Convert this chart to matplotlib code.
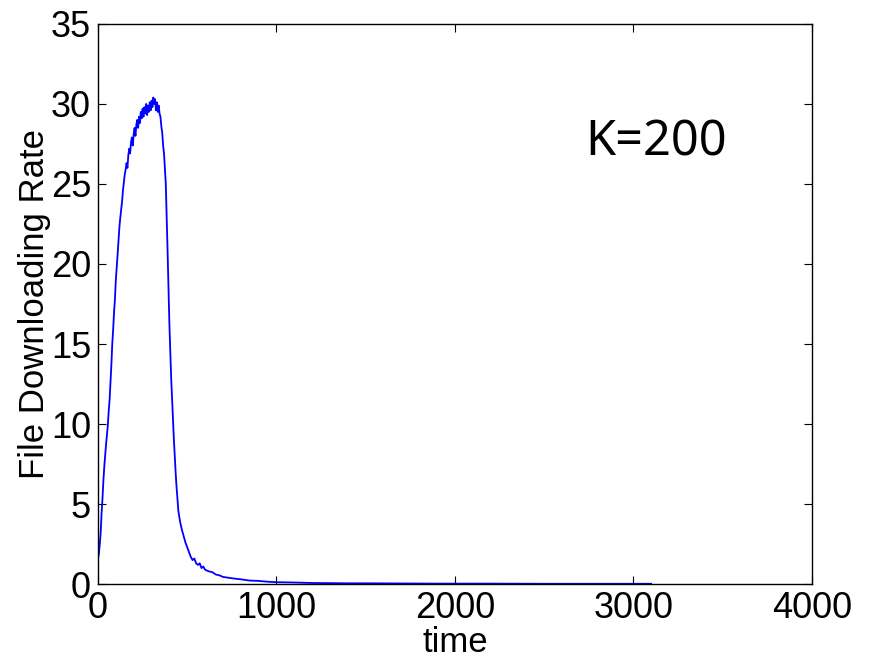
import numpy as np
import matplotlib.pyplot as plt

# values
time = [0, 5, 10, 15, 20, 25, 30, 35, 40, 45, 50, 55, 60, 65, 70, 75, 80, 85, 90, 95,
        100, 105, 110, 115, 120, 125, 130, 135, 140, 145, 150, 155, 160, 165, 170, 175,
        180, 185, 190, 195, 200, 205, 210, 215, 220, 225, 230, 235, 240, 245, 250, 255,
        260, 265, 270, 275, 280, 285, 290, 295, 300, 305, 310, 315, 320, 325, 330, 335,
        340, 345, 350, 355, 360, 365, 370, 375, 380, 385, 390, 395, 400, 405, 410, 415,
        420, 425, 430, 435, 440, 445, 450, 460, 470, 480, 490, 500, 510, 520, 530, 540,
        550, 560, 570, 580, 590, 600, 620, 640, 660, 680, 700, 730, 760, 800, 850, 900,
        950, 1000, 1100, 1200, 1300, 1400, 1500, 1700, 1900, 2200, 2500, 2800, 3100]
rate = [1.6, 1.9, 2.5, 3.2, 4.4, 5.3, 6.4, 7.3, 8.0, 8.7, 9.3, 9.9, 10.8, 11.5, 12.6, 13.7,
        15.0, 15.9, 17.0, 17.8, 19.0, 19.8, 20.6, 21.5, 22.3, 22.9, 23.4, 23.9, 24.6, 25.1,
        25.6, 25.9, 26.3, 26.0, 26.8, 27.2, 26.9, 27.6, 27.9, 27.4, 28.1, 28.5, 28.0, 28.7,
        29.0, 28.5, 29.2, 28.8, 29.5, 29.1, 29.7, 29.2, 29.8, 29.4, 30.0, 29.3, 29.9, 29.5,
        30.1, 29.6, 30.2, 29.8, 30.4, 30.0, 30.3, 29.6, 30.1, 29.5, 29.9, 29.4, 29.2, 28.6,
        28.2, 27.4, 26.9, 25.9, 25.0, 23.0, 20.8, 18.6, 16.3, 14.5, 12.9, 11.6, 10.2, 9.1,
        8.0, 7.0, 6.1, 5.4, 4.6, 3.9, 3.4, 3.0, 2.6, 2.3, 2.0, 1.7, 1.5, 1.6, 1.3, 1.2,
        1.3, 1.0, 1.1, 0.9, 0.8, 0.75, 0.6, 0.55, 0.45, 0.4, 0.35, 0.3, 0.22, 0.2, 0.15,
        0.12, 0.1, 0.07, 0.06, 0.05, 0.05, 0.04, 0.03, 0.03, 0.02, 0.02, 0.02]
x_ticks = [0, 1000, 2000, 3000, 4000]
y_ticks = [0, 5, 10, 15, 20, 25, 30, 35]

plt.rcParams['font.family'] = ['Liberation Sans', 'DejaVu Sans']

fig = plt.figure(figsize=(8.71, 6.63), dpi=100)
ax = fig.add_axes([0.1125, 0.119, 0.8195, 0.845])

ax.plot(time, rate, color='#0000ff', lw=1.3)

ax.set_xlim(0, 4000)
ax.set_ylim(0, 35)
ax.set_xticks(x_ticks)
ax.set_yticks(y_ticks)
ax.tick_params(direction='in', length=6, width=0.8, labelsize=26,
               top=True, right=True)
ax.tick_params(axis='x', pad=5)
ax.tick_params(axis='y', pad=5)
for s in ax.spines.values():
    s.set_linewidth(1.0)

ax.set_xlabel('time', fontsize=25, labelpad=0)
ax.set_ylabel('File Downloading Rate', fontsize=25, labelpad=0)
ax.text(3130, 27.6, 'K=200', fontsize=35, ha='center', va='center',
        family=['Noto Sans', 'DejaVu Sans'])

fig.savefig('out.png', dpi=100)
